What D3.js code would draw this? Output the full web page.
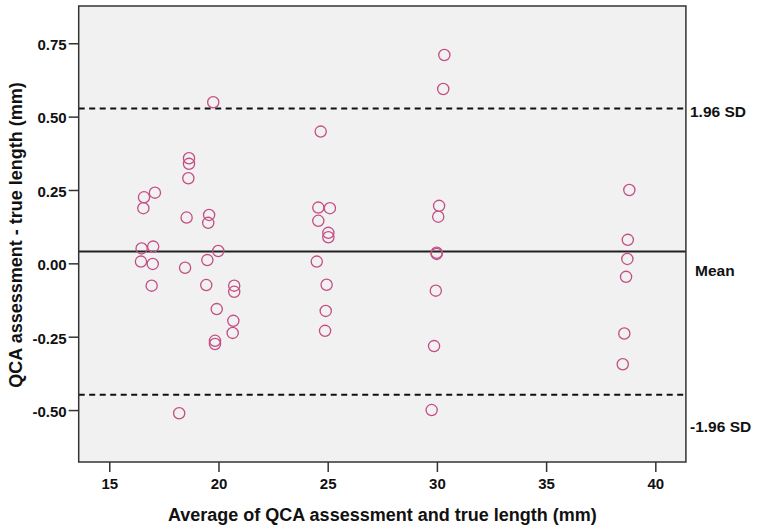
<!DOCTYPE html>
<html>
<head>
<meta charset="utf-8">
<script src="https://cdn.jsdelivr.net/npm/d3@7"></script>
<style>
  html, body { margin: 0; padding: 0; background: #ffffff; }
  svg { display: block; }
  text { font-family: "Liberation Sans", Arial, sans-serif; fill: #111; }
</style>
</head>
<body>
<svg id="chart" width="758" height="529"></svg>
<script>
// Bland–Altman: average of QCA and true length vs. their difference (mm)
const avgLength = [
  18.65, 18.65, 18.62, 16.59, 17.09, 16.56, 18.54, 19.57, 19.53, 16.48,
  17.01, 19.99, 16.45, 16.99, 18.47, 19.49, 16.94, 19.44, 20.72, 20.72,
  19.92, 20.68, 20.65, 19.84, 19.84, 18.20, 19.76,
  24.68, 24.57, 25.10, 24.57, 25.03, 25.03, 24.50, 24.95, 24.91, 24.88,
  30.34, 30.29, 30.10, 30.06, 29.99, 29.99, 29.95, 29.87, 29.76,
  38.81, 38.74, 38.72, 38.66, 38.58, 38.51
];
const difference = [
  0.358, 0.339, 0.290, 0.225, 0.241, 0.188, 0.156, 0.165, 0.138, 0.051,
  0.057, 0.042, 0.006, -0.002, -0.015, 0.011, -0.076, -0.074, -0.076, -0.097,
  -0.156, -0.196, -0.237, -0.264, -0.275, -0.511, 0.549,
  0.449, 0.190, 0.188, 0.145, 0.104, 0.089, 0.006, -0.073, -0.162, -0.230,
  0.710, 0.594, 0.196, 0.159, 0.036, 0.032, -0.093, -0.282, -0.500,
  0.250, 0.080, 0.015, -0.046, -0.239, -0.344
];
const meanDiff = 0.04;
const sdDiff = 0.249;
const xTicks = [15, 20, 25, 30, 35, 40];
const yTicks = [-0.50, -0.25, 0.00, 0.25, 0.50, 0.75];
const refLabels = ["1.96 SD", "Mean", "-1.96 SD"];

const svg = d3.select("#chart");
const plot = { left: 78.7, right: 685.9, top: 6, bottom: 462 };

const x = d3.scaleLinear().domain([13.6, 41.4]).range([plot.left, plot.right]);
const y = d3.scaleLinear().domain([-0.677, 0.877]).range([plot.bottom, plot.top]);

// plot background
svg.append("rect")
  .attr("x", plot.left).attr("y", plot.top)
  .attr("width", plot.right - plot.left).attr("height", plot.bottom - plot.top)
  .attr("fill", "#f0f1f0");

const upper = meanDiff + 1.96 * sdDiff;
const lower = meanDiff - 1.96 * sdDiff;

// reference lines
svg.append("line")
  .attr("x1", plot.left).attr("x2", plot.right)
  .attr("y1", y(meanDiff)).attr("y2", y(meanDiff))
  .attr("stroke", "#222").attr("stroke-width", 2);
[upper, lower].forEach(v => {
  svg.append("line")
    .attr("x1", plot.left).attr("x2", plot.right)
    .attr("y1", y(v)).attr("y2", y(v))
    .attr("stroke", "#111").attr("stroke-width", 2)
    .attr("stroke-dasharray", "6,4.5");
});

// points
svg.append("g").selectAll("circle")
  .data(avgLength.map((a, i) => [a, difference[i]]))
  .join("circle")
  .attr("cx", d => x(d[0]))
  .attr("cy", d => y(d[1]))
  .attr("r", 5.6)
  .attr("fill", "none")
  .attr("stroke", "#c44d85")
  .attr("stroke-width", 1.3);

// frame
svg.append("rect")
  .attr("x", plot.left).attr("y", plot.top)
  .attr("width", plot.right - plot.left).attr("height", plot.bottom - plot.top)
  .attr("fill", "none").attr("stroke", "#333").attr("stroke-width", 1.5);

// axes
const fmtY = v => d3.format(".2f")(v).replace("\u2212", "-");
const xAxis = svg.append("g")
  .attr("transform", `translate(0,${plot.bottom})`)
  .call(d3.axisBottom(x).tickValues(xTicks).tickFormat(d3.format("d")).tickSize(10).tickPadding(6));
const yAxis = svg.append("g")
  .attr("transform", `translate(${plot.left},0)`)
  .call(d3.axisLeft(y).tickValues(yTicks).tickFormat(fmtY).tickSize(10).tickPadding(2));
[xAxis, yAxis].forEach(g => {
  g.select(".domain").remove();
  g.selectAll(".tick line").attr("stroke", "#333").attr("stroke-width", 1.5);
  g.selectAll(".tick text")
    .attr("font-family", "Liberation Sans, Arial, sans-serif")
    .attr("font-size", 15).attr("font-weight", "bold").attr("fill", "#111");
});
yAxis.selectAll(".tick text").attr("dy", "0.42em");

// reference line labels
const labelY = [y(upper) + 3.5, y(meanDiff) + 18.5, y(lower) + 32];
refLabels.forEach((t, i) => {
  svg.append("text")
    .attr("x", i === 1 ? 695 : 690)
    .attr("y", labelY[i])
    .attr("dy", "0.35em")
    .attr("font-size", 15.5).attr("font-weight", "bold")
    .text(t);
});

// axis titles
svg.append("text")
  .attr("x", (plot.left + plot.right) / 2 + 0)
  .attr("y", 521)
  .attr("text-anchor", "middle")
  .attr("font-size", 18).attr("font-weight", "bold").attr("fill", "#222")
  .text("Average of QCA assessment and true length (mm)");
svg.append("text")
  .attr("transform", `translate(22,235) rotate(-90)`)
  .attr("text-anchor", "middle")
  .attr("font-size", 18).attr("font-weight", "bold").attr("fill", "#222")
  .text("QCA assessment - true length (mm)");
</script>
</body>
</html>
